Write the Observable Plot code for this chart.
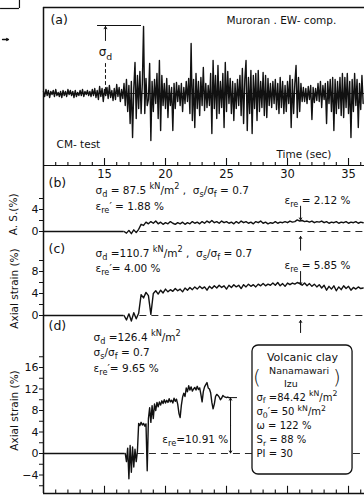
<!DOCTYPE html>
<html><head><meta charset="utf-8">
<script src="https://cdn.jsdelivr.net/npm/d3@7"></script>
<script src="https://cdn.jsdelivr.net/npm/@observablehq/plot@0.6"></script>
<style>
body{margin:0;background:#fff}
#chart{position:relative;width:364px;height:498px;overflow:hidden;background:#fff}
#chart svg{position:absolute;left:0;top:0}
</style>
</head><body><div id="chart"></div>
<script>
// ---- data ----
// (a) input stress wave, Muroran EW-comp. (relative units, sampled every 0.1 s from 10 s)
const accStart = 10, accStep = 0.1;
const accValues = [
 2,-3,4,-2,3,-4,2,-1,3,-3, 4,-2,1,-3,2,-4,3,-2,2,-3, 4,-1,3,-2,2,-4,3,-3,1,-2, 3,-2,4,-3,2,-1,3,-2,2,-3, 4,-2,
 5,-4,3,-6,7,-3,5,-8,4,-2, 6,-5,8,-4,3,-7,5,-6,9,-3, 6,-8,4,-5,
 10,-12,14,-18,8,-30,12,-44,5,31,-25,18,-15,22,
 -20,10,67,-20,15,-12,-6,
 30,-47,12,-18,14,-10,
 20,-25,33,-37,18,-12,
 10,-15,15,-24,8,-12,6,
 -37,10,-15,11,-8,
 8,-12,10,-18,6,-10,12,-8,15,
 -20,50,-27,14,
 -34,20,-15,12,-22,16,-12,
 26,-17,10,-14,8,
 -12,20,-40,33,-15,
 18,-25,28,-20,12,
 -14,20,-34,31,-18,22,-10,
 15,-20,12,-27,10,-15,14,
 -12,18,-22,25,-30,14,33,
 -37,16,-20,23,-40,18,
 -15,20,-27,23,-18,12,
 -14,21,-22,18,-24,15,-12,
 10,-14,12,-10,14,-16,10,-20,16,
 -14,12,-20,8,-18,12,-10,
 18,-34,14,-20,10,28,
 -24,16,-18,10,-8,
 6,-8,5,-10,7,-6,8,-26,6,-9,5,
 -7,10,-8,12,-14,8,-6,
 10,-30,12,-10,14,-18,
 16,-37,14,-20,12,-15,16,-22,
 20,-24,16,-14,20,-20,
 12,-44,14,-18,20,-12,
 14,-34,10,-16,18,-10
];
// (b) axial strain %, every 0.2 s from 16.6 s
const bStart = 16.6, bStep = 0.2;
const bValues = [
 0,-0.3,0.2,-0.4,0.3,-0.2,0.4,1.3,1.1,1.7,
 1.4,1.8,1.5,1.9,1.4,1.7,1.3,1.6,1.4,1.8,
 1.5,1.3,1.6,1.4,1.7,1.3,1.6,1.4,1.8,1.5,
 1.7,1.4,1.8,1.5,1.9,1.6,2.0,1.6,1.8,1.5,
 1.9,1.6,1.8,1.5,1.7,1.4,1.8,1.5,1.9,1.6,
 1.8,1.5,1.7,1.4,1.8,1.6,1.9,1.5,1.7,1.4,
 1.6,1.5,1.8,1.5,1.7,1.6,1.8,1.6,1.9,1.7,
 1.8,2.1,1.9,2.0,1.8,1.9,1.7,1.9,1.6,1.8,
 1.7,1.9,1.6,1.8,1.5,1.7,1.6,1.8,1.5,1.7,
 1.6,1.8,1.5,1.7,1.6,1.8,1.5,1.7,1.6
];
// (c) axial strain %, every 0.2 s from 16.6 s
const cStart = 16.6, cStep = 0.2;
const cValues = [
 0,-0.8,0.3,-1.0,0.5,-0.6,0.4,3.8,3.2,4.2,
 3.6,0.2,4.0,4.5,3.9,4.6,4.1,4.8,4.3,4.7,
 4.4,4.9,4.5,4.8,4.3,5.0,4.6,5.1,4.7,5.2,
 4.8,5.3,4.9,5.2,4.6,5.3,4.9,5.4,5.0,5.5,
 5.1,5.4,4.8,5.5,5.1,5.6,5.2,5.5,4.9,5.6,
 5.2,5.7,5.3,5.6,5.2,5.7,5.4,5.8,5.4,5.7,
 5.5,5.9,5.5,6.0,5.4,5.8,5.3,5.9,5.6,5.9,
 5.7,6.0,5.8,5.5,5.9,5.4,5.8,5.3,5.7,5.2,
 5.6,5.0,5.5,4.6,5.3,4.8,5.4,4.5,5.2,4.7,
 5.4,4.9,5.3,4.6,5.1,4.8,5.2,4.9,5.0
];
// (d) axial strain %, every 0.1 s from 16.7 s
const dStart = 16.7, dStep = 0.1;
const dValues = [
 0,-1.5,1.0,-4.7,1.5,-3.5,1.2,-2.5,0.8,-1.5,
 0.5,5.6,5.2,5.8,5.3,5.6,5.1,5.5,-3.2,6.5,
 8.5,5.8,8.9,6.5,9.2,8.0,9.5,8.7,9.6,9.0,
 9.8,9.3,10.0,9.4,9.9,9.5,10.2,9.6,9.9,9.4,
 10.3,9.7,10.1,9.2,7.5,6.7,9.0,10.5,11.2,10.6,
 12.2,11.5,12.6,11.8,12.4,11.6,12.0,12.3,11.8,12.5,
 11.9,12.2,11.0,9.6,11.5,12.4,12.8,13.2,12.2,12.0,
 11.3,9.5,8.3,9.2,10.6,11.0,10.8,10.5,10.0,10.3,
 10.8,10.6,10.5,10.4,10.5,10.4,10.4
];
const timeTicks = [11,12,13,14,15,16,17,18,19,20,21,22,23,24,25,26,27,28,29,30,31,32,33,34,35,36];
const timeLabels = [15,20,25,30,35];
const bTicks = [0,2,4,6], cTicks = [0,2,4,6,8,10], dTicks = [-6,-4,-2,0,2,4,6,8,10,12,14,16,18];

// ---- helpers ----
const INK = "#111";
const FONT = "'DejaVu Sans', 'Liberation Sans', sans-serif";
const series = (start, step, vals) => vals.map((v, i) => ({t: start + i * step, v}));
const T = (s, x, y, o = {}) => Plot.text([s], {x, y, text: d => d, textAnchor: "start", fontSize: 10.5, fill: INK, ...o});
const major = d => timeLabels.includes(d);

function panel(yopts, marks) {
  return Plot.plot({
    width: 364, height: 498, marginLeft: 43, marginRight: 0, marginTop: 0, marginBottom: 0,
    x: {domain: [10, 36.31], axis: null},
    y: yopts,
    style: {fontFamily: FONT, background: "transparent", color: INK, overflow: "visible"},
    marks
  });
}

function rich(svg) {
  svg.querySelectorAll("text").forEach(t => {
    const s = t.textContent;
    if (!/[_^]\{/.test(s)) return;
    const fs = parseFloat(getComputedStyle(t).fontSize) || 10;
    while (t.firstChild) t.removeChild(t.firstChild);
    let shift = 0;
    s.split(/([_^]\{[^}]*\})/).forEach(part => {
      if (!part) return;
      const ts = document.createElementNS("http://www.w3.org/2000/svg", "tspan");
      let target = 0, txt = part, small = false;
      if (part.startsWith("_{")) { target = fs * 0.28; txt = part.slice(2, -1); small = true; }
      else if (part.startsWith("^{")) { target = -fs * 0.42; txt = part.slice(2, -1); small = true; }
      ts.setAttribute("dy", (target - shift).toFixed(2));
      shift = target;
      if (small) ts.setAttribute("font-size", (fs * 0.78).toFixed(2));
      ts.textContent = txt;
      t.appendChild(ts);
    });
  });
}

const chart = document.getElementById("chart");
const add = svg => { chart.appendChild(svg); rich(svg); };

// ---- (a) ----
add(panel({domain: [0, 93], range: [93, 0], axis: null}, [
  Plot.ruleY([86], {stroke: INK, strokeWidth: 1.3}),
  Plot.ruleY([0], {stroke: INK, strokeWidth: 0.9}),
  Plot.line(series(accStart, accStep, accValues), {x: "t", y: "v", stroke: INK, strokeWidth: 1.4}),
  Plot.ruleY([-72], {stroke: INK, strokeWidth: 1.2}),
  Plot.ruleX(timeTicks, {x: d => d, y1: -72, y2: d => major(d) ? -65 : -69, stroke: INK, strokeWidth: 1.1}),
  Plot.text(timeLabels, {x: d => d, y: -81, text: d => String(d), fontSize: 11.5, fill: INK}),
  // sigma_d annotation
  Plot.ruleY([68], {x1: 14.43, x2: 18.03, stroke: INK, strokeWidth: 1}),
  Plot.arrow([0], {x1: 15.08, y1: 53, x2: 15.08, y2: 67, stroke: INK, strokeWidth: 1, headLength: 4}),
  Plot.arrow([0], {x1: 15.08, y1: 30, x2: 15.08, y2: 3, stroke: INK, strokeWidth: 1, headLength: 4, strokeDasharray: "3,3"}),
  T("σ_{d}", 15.08, 41, {textAnchor: "middle", fontSize: 12}),
  T("(a)", 10.57, 74, {fontSize: 12.5}),
  T("Muroran . EW- comp.", 25.0, 73),
  T("CM- test", 11.07, -51),
  T("Time (sec)", 29.1, -61),
  // fragments of the neighbouring figure
  Plot.ruleY([85], {x1: 6.48, x2: 8.03, stroke: INK, strokeWidth: 1.2}),
  Plot.ruleX([8.03], {y1: 93, y2: 85, stroke: INK, strokeWidth: 1.2}),
  Plot.arrow([0], {x1: 6.64, y1: 54, x2: 7.13, y2: 54, stroke: INK, strokeWidth: 1.3, headLength: 3})
]));

// ---- (b) ----
add(panel({domain: [0, 4], range: [231, 209]}, [
  Plot.ruleY([0], {x1: 10, x2: 16.6, stroke: INK, strokeWidth: 1.3}),
  Plot.ruleY([0], {x1: 17.9, x2: 36.31, stroke: INK, strokeWidth: 0.9, strokeDasharray: "7,5"}),
  Plot.line(series(bStart, bStep, bValues), {x: "t", y: "v", stroke: INK, strokeWidth: 1.4}),
  Plot.axisY({ticks: bTicks, tickSize: 4, tickPadding: 1, fontSize: 11, label: null, tickFormat: d => d % 4 === 0 ? String(d) : ""}),
  T("A. S.(%)", 7.54, 3.1, {textAnchor: "middle", rotate: -90}),
  T("(b)", 10.41, 8.73, {fontSize: 12.5}),
  T("σ_{d} = 87.5 ^{kN}/m^{2} ,  σ_{s}/σ_{f} = 0.7", 14.26, 7.45),
  T("ε_{re}′ = 1.88 %", 14.26, 4.55),
  T("ε_{re} = 2.12 %", 29.75, 5.64),
  Plot.arrow([0], {x1: 31.07, y1: 4.6, x2: 31.07, y2: 2.1, stroke: INK, strokeWidth: 1, headLength: 3.5}),
  Plot.arrow([0], {x1: 31.07, y1: -3.4, x2: 31.07, y2: -0.9, stroke: INK, strokeWidth: 1, headLength: 3.5})
]));

// ---- (c) ----
add(panel({domain: [0, 8], range: [315, 271]}, [
  Plot.ruleY([0], {x1: 10, x2: 16.6, stroke: INK, strokeWidth: 1.3}),
  Plot.ruleY([0], {x1: 17.9, x2: 36.31, stroke: INK, strokeWidth: 0.9, strokeDasharray: "7,5"}),
  Plot.line(series(cStart, cStep, cValues), {x: "t", y: "v", stroke: INK, strokeWidth: 1.4}),
  Plot.axisY({ticks: cTicks, tickSize: 4, tickPadding: 1, fontSize: 11, label: null, tickFormat: d => d % 4 === 0 ? String(d) : ""}),
  T("Axial strain (%)", 7.62, 4.9, {textAnchor: "middle", rotate: -90}),
  T("(c)", 10.41, 12.18, {fontSize: 12.5}),
  T("σ_{d} =110.7 ^{kN}/m^{2} ,  σ_{s}/σ_{f} = 0.7", 14.26, 11.27),
  T("ε_{re}′= 4.00 %", 14.26, 8.55),
  T("ε_{re} = 5.85 %", 29.75, 9.09),
  Plot.arrow([0], {x1: 31.07, y1: 8.0, x2: 31.07, y2: 5.6, stroke: INK, strokeWidth: 1, headLength: 3.5}),
  Plot.arrow([0], {x1: 31.07, y1: -3.1, x2: 31.07, y2: -0.9, stroke: INK, strokeWidth: 1, headLength: 3.5})
]));

// ---- (d) ----
add(panel({domain: [0, 16], range: [453, 367]}, [
  Plot.ruleX([10], {y1: 82.98, y2: -7.44, stroke: INK, strokeWidth: 1.5}),
  Plot.ruleY([-7.44], {stroke: INK, strokeWidth: 1.3}),
  Plot.ruleX(timeTicks, {x: d => d, y1: -7.44, y2: d => major(d) ? -6.1 : -6.8, stroke: INK, strokeWidth: 1.1}),
  Plot.ruleY([0], {x1: 10, x2: 16.7, stroke: INK, strokeWidth: 1.3}),
  Plot.ruleY([0], {x1: 17.7, x2: 36.31, stroke: INK, strokeWidth: 0.9, strokeDasharray: "7,5"}),
  Plot.line(series(dStart, dStep, dValues), {x: "t", y: "v", stroke: INK, strokeWidth: 1.4}),
  Plot.axisY({ticks: dTicks, tickSize: 4, tickPadding: 1, fontSize: 11, label: null, tickFormat: d => d % 4 === 0 ? (d < 0 ? "−" + (-d) : String(d)) : ""}),
  T("Axial strain (%)", 7.62, 8.0, {textAnchor: "middle", rotate: -90}),
  T("(d)", 10.41, 23.8, {fontSize: 12.5}),
  T("σ_{d} =126.4 ^{kN}/m^{2}", 14.1, 21.58),
  T("σ_{s}/σ_{f} = 0.7", 14.1, 18.79),
  T("ε_{re}′= 9.65 %", 14.1, 15.81),
  T("ε_{re}=10.91 %", 25.15, 2.6, {textAnchor: "end"}),
  Plot.ruleY([10.4], {x1: 25.2, x2: 25.9, stroke: INK, strokeWidth: 1}),
  Plot.arrow([0], {x1: 25.33, y1: 5.2, x2: 25.33, y2: 10.3, stroke: INK, strokeWidth: 1, headLength: 3.5}),
  Plot.arrow([0], {x1: 25.33, y1: 5.2, x2: 25.33, y2: 0.1, stroke: INK, strokeWidth: 1, headLength: 3.5}),
  // material box
  Plot.rect([0], {x1: 27.13, x2: 35.33, y1: -3.91, y2: 20.09, rx: 6, fill: "white", stroke: INK, strokeWidth: 1.3}),
  T("Volcanic clay", 31.23, 17.86, {textAnchor: "middle", fontSize: 11}),
  T("(", 27.5, 14.2, {textAnchor: "middle", fontSize: 20, fontWeight: 300}),
  T(")", 34.05, 14.2, {textAnchor: "middle", fontSize: 20, fontWeight: 300}),
  T("Nanamawari", 30.95, 15.3, {textAnchor: "middle", fontSize: 9.5}),
  T("Izu", 30.28, 12.93, {textAnchor: "middle", fontSize: 9.5}),
  T("σ_{f} =84.42 ^{kN}/m^{2}", 27.46, 10.42, {fontSize: 10}),
  T("σ_{0}′= 50 ^{kN}/m^{2}", 27.46, 7.72, {fontSize: 10}),
  T("ω = 122 %", 27.46, 5.12, {fontSize: 10}),
  T("S_{r} = 88 %", 27.46, 2.51, {fontSize: 10}),
  T("PI = 30", 27.46, -0.09, {fontSize: 10})
]));
</script></body></html>
